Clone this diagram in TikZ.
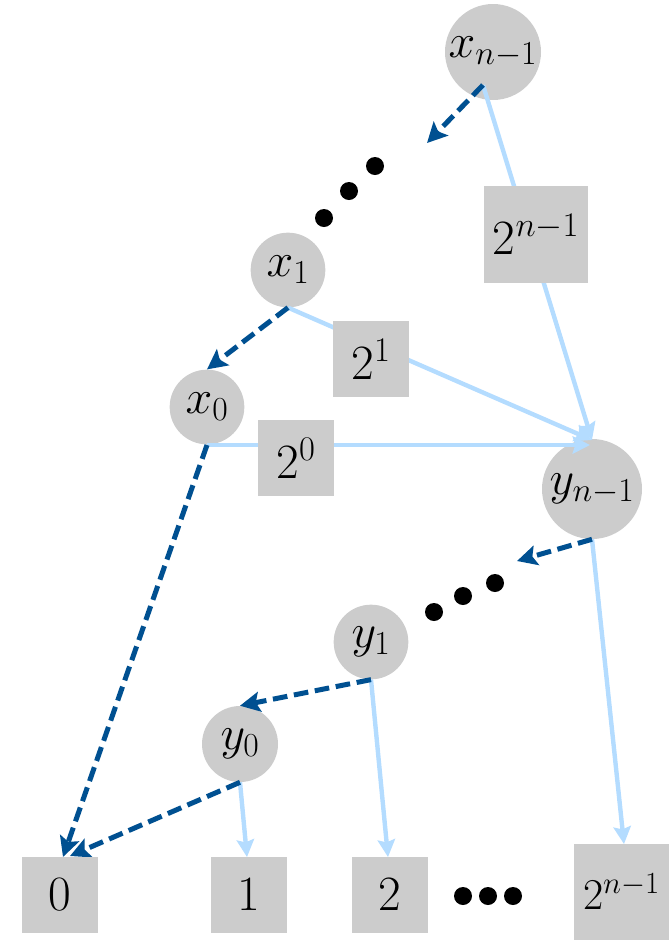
\RequirePackage{fix-cm}
\documentclass[tikz,border=0pt]{standalone}
\usetikzlibrary{arrows.meta}
\pgfdeclarelayer{fg}
\pgfsetlayers{main,fg}
\definecolor{dkb}{RGB}{0,80,145}
\definecolor{ltb}{RGB}{180,220,255}
\definecolor{gry}{RGB}{204,204,204}
\begin{document}
\begin{tikzpicture}[x=0.75pt,y=-0.75pt,
  circ/.style={circle,fill=gry,inner sep=0pt,font=\fontsize{36}{42}\selectfont},
  sq/.style={rectangle,fill=gry,inner sep=0pt,minimum width=57pt,minimum height=57pt,font=\fontsize{37}{44}\selectfont},
  dk/.style={draw=dkb,line width=3.75pt,dash pattern=on 11pt off 5pt,-{Stealth[length=15pt,width=15pt,inset=3pt]}},
  lb/.style={draw=ltb,line width=3.3pt,-{Stealth[length=13pt,width=13pt,inset=2pt]}},
  dotn/.style={circle,fill=black,inner sep=0pt,minimum size=13.5pt}]
\useasboundingbox (0,0) rectangle (669,940);
% circles
\node[circ,minimum size=72pt] (xn) at (493,52) {$x_{n-1}$};
\node[circ,minimum size=56pt] (x1) at (288,270) {$x_1$};
\node[circ,minimum size=56pt] (x0) at (207,407) {$x_0$};
\node[circ,minimum size=75pt] (yn) at (592,489) {$y_{n-1}$};
\node[circ,minimum size=56pt] (y1) at (371,642) {$y_1$};
\node[circ,minimum size=57pt] (y0) at (240,744) {$y_0$};
% boxes
\begin{pgfonlayer}{fg}
\node[sq,minimum width=78pt,minimum height=73pt] (bn) at (536,234.5) {$2^{n-1}$};
\node[sq] (b1) at (371,359) {$2^1$};
\node[sq] (b0) at (296,458) {$2^0$};
\node[sq] (z0) at (60,895) {$0$};
\node[sq] (z1) at (249,895) {$1$};
\node[sq] (z2) at (390,895) {$2$};
\node[sq,minimum width=71pt,minimum height=72pt,font=\fontsize{33}{40}\selectfont] (zn) at (621.5,892) {$2^{n-1}$};
\end{pgfonlayer}
% dots
\node[dotn] (d1) at (375,166) {};
\node[dotn] (d2) at (349,191) {};
\node[dotn] (d3) at (324,218) {};
\node[dotn] (e1) at (495,583) {};
\node[dotn] (e2) at (463,596) {};
\node[dotn] (e3) at (434,612) {};
\node[dotn] (f1) at (463,896) {};
\node[dotn] (f2) at (488,896) {};
\node[dotn] (f3) at (513,896) {};
% connector points
\coordinate (xnS) at (483,85);
\coordinate (xnE) at (427,143);
\coordinate (ynT) at (592,440);
\coordinate (ynH) at (590,445);
\coordinate (x0S) at (207,445);
\coordinate (ynE) at (517,561);
\coordinate (z0A) at (63,857);
\coordinate (z0B) at (70,856);
\coordinate (z1T) at (247,857);
\coordinate (z2T) at (388,857);
\coordinate (znT) at (624,844);
% light arrows
\draw[lb] (xnS) -- (ynT);
\draw[lb] (x1.south) -- (ynT);
\draw[lb] (x0S) -- (ynH);
\draw[lb] (yn.south) -- (znT);
\draw[lb] (y1.south) -- (z2T);
\draw[lb] (y0.south) -- (z1T);
% dark dashed arrows
\draw[dk] (xnS) -- (xnE);
\draw[dk] (x1.south) -- (x0.north);
\draw[dk] (x0S) -- (z0A);
\draw[dk] (yn.south) -- (ynE);
\draw[dk] (y1.south) -- (y0.north);
\draw[dk] (y0.south) -- (z0B);
\end{tikzpicture}
\end{document}
